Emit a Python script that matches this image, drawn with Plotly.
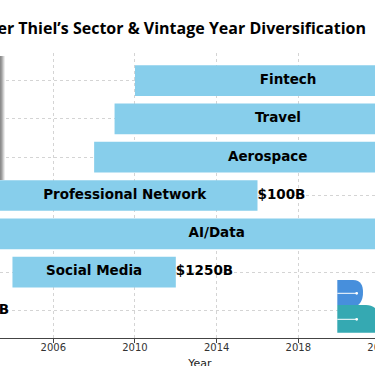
import plotly.graph_objects as go

# ---- data (bottom to top) ----
sectors = ["Payments", "Social Media", "AI/Data", "Professional Network",
           "Aerospace", "Travel", "Fintech"]
start_year = [1998, 2004, 2003, 2003, 2008, 2009, 2010]
end_year = [2001.7, 2012, 2025, 2016, 2025, 2025, 2025]
value_labels = ["$1.5B", "$1250B", "$1B", "$100B", "$1B", "$1B", "$1B"]
x_ticks = [2006, 2010, 2014, 2018, 2022]

W, H = 400, 372              # figure slightly larger; window crops the rest
L, R, T, B = 0, 0, 53, 34
PH = H - T - B
BOTTOM = H - B               # y pixel of the x axis
PX_PER_YEAR = 20.42
X0 = 2003.39

durations = [e - s for s, e in zip(start_year, end_year)]
mids = [(s + e) / 2 for s, e in zip(start_year, end_year)]

fig = go.Figure()
fig.add_trace(go.Bar(
    y=sectors, x=durations, base=start_year, orientation="h",
    marker=dict(color="#87CEEB", line=dict(width=0)), width=0.8,
    hoverinfo="skip", showlegend=False))

lbl_font = dict(family="DejaVu Sans", size=13.5, color="black", weight="bold")
fig.add_trace(go.Scatter(
    x=mids, y=sectors, mode="text", text=sectors,
    textposition="middle center", textfont=lbl_font,
    showlegend=False, hoverinfo="skip"))
fig.add_trace(go.Scatter(
    x=end_year, y=sectors, mode="text", text=value_labels,
    textposition="middle right", textfont=lbl_font,
    showlegend=False, hoverinfo="skip"))


def px(x):
    return x / W


def py(y):
    return (BOTTOM - y) / PH


def path(pts_cmds):
    out = []
    for c in pts_cmds:
        if isinstance(c, str):
            out.append(c)
        else:
            out.append(f"{px(c[0]):.5f},{py(c[1]):.5f}")
    return " ".join(out)


shapes = []
# left shadow band
for i, col in enumerate(["#8c8c8c", "#9c9c9c", "#b5b5b5", "#d2d2d2", "#ececec"]):
    shapes.append(dict(type="rect", xref="paper", yref="paper", layer="above",
                       x0=px(i), x1=px(i + 1), y0=py(180), y1=py(56),
                       fillcolor=col, line=dict(width=0)))

# logo
top = path(["M", (337.3, 280), "L", (353, 280),
            "C", (361, 280), (363, 286), (363, 292),
            "C", (363, 299), (361, 303), (358, 305),
            "L", (337.3, 305), "Z"])
bot = path(["M", (337.3, 305), "L", (366, 305),
            "C", (374, 305), (380, 311), (380, 319),
            "L", (380, 332.7), "L", (337.3, 332.7), "Z"])
shapes.append(dict(type="path", xref="paper", yref="paper", layer="above",
                   path=top, fillcolor="#478fdc", line=dict(width=0)))
shapes.append(dict(type="path", xref="paper", yref="paper", layer="above",
                   path=bot, fillcolor="#35a9b2", line=dict(width=0)))
for yy in (293.3, 319.3):
    shapes.append(dict(type="line", xref="paper", yref="paper", layer="above",
                       x0=px(337.3), x1=px(356.7), y0=py(yy), y1=py(yy),
                       line=dict(color="white", width=1)))
    shapes.append(dict(type="circle", xref="paper", yref="paper", layer="above",
                       x0=px(355.3), x1=px(358.1), y0=py(yy + 1.4), y1=py(yy - 1.4),
                       fillcolor="white", line=dict(width=0)))

fig.update_layout(
    width=W, height=H,
    margin=dict(l=L, r=R, t=T, b=B, pad=0),
    paper_bgcolor="white", plot_bgcolor="white",
    title=dict(text="Peter Thiel\u2019s Sector & Vintage Year Diversification",
               x=366 / W, xanchor="right", xref="paper",
               y=1 - 28 / H, yanchor="middle", yref="container",
               font=dict(family="Open Sans", size=16, color="black", weight="bold")),
    xaxis=dict(range=[X0, X0 + W / PX_PER_YEAR], tickvals=x_ticks,
               ticktext=[str(t) for t in x_ticks],
               showgrid=True, gridcolor="#d4d4d4", griddash="dot", gridwidth=1,
               showline=True, linecolor="#444444", linewidth=1.2,
               ticks="outside", ticklen=3.5, tickcolor="#444444", tickwidth=1,
               ticklabelstandoff=-4,
               tickfont=dict(family="DejaVu Sans", size=10, color="#333333"),
               title=dict(text="Year", standoff=7,
                          font=dict(family="DejaVu Sans", size=11, color="#222222")),
               zeroline=False, automargin=False),
    yaxis=dict(range=[-0.72, 6.72], categoryorder="array", categoryarray=sectors,
               showgrid=True, gridcolor="#d4d4d4", griddash="dot", gridwidth=1,
               showticklabels=False, showline=False, ticks="", zeroline=False,
               automargin=False),
    shapes=shapes,
    bargap=0.2,
)

fig.write_html("out.html", config={"displayModeBar": False},
               post_script="document.body.style.margin='0';document.body.style.overflow='hidden';")
